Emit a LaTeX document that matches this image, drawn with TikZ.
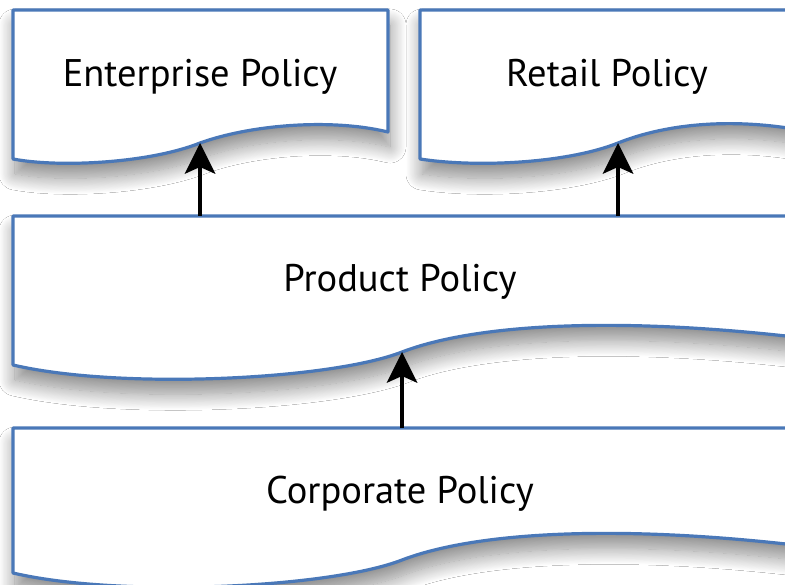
\documentclass[tikz,border=0pt]{standalone}
\usepackage{fontspec}
\setmainfont{PT Sans}
\usetikzlibrary{shadows.blur,arrows.meta}
\definecolor{docblue}{HTML}{4A78B8}
\begin{document}
\begin{tikzpicture}[x=1pt,y=-1pt,
  doc/.style={draw=docblue, line width=3.2pt, fill=white, line join=round,
    blur shadow={shadow xshift=2pt, shadow yshift=-15pt, shadow blur radius=16pt,
      shadow blur steps=20, shadow opacity=45}},
  lbl/.style={font=\fontsize{38.5}{44}\selectfont, inner sep=0pt, text=black},
  link/.style={draw=black, line width=3.2pt,
    -{Stealth[length=31pt,width=31pt,inset=7pt,fill=black,line width=0pt]}}]
\useasboundingbox (0,0) rectangle (785,585);
\fill[white] (0,0) rectangle (785,585);
% Enterprise Policy
\path[doc] (13,10) -- (388,10) -- (388,132)
  .. controls (330,118) and (250,125) .. (200,143)
  .. controls (150,163) and (60,168) .. (13,159) -- cycle;
% Retail Policy
\path[doc] (420,10) -- (820,10) -- (820,134)
  .. controls (740,116) and (668,123) .. (618,143)
  .. controls (568,163) and (478,168) .. (420,159) -- cycle;
% Product Policy
\path[doc] (13,216) -- (820,216) -- (820,340)
  .. controls (620,315) and (475,324) .. (402,352)
  .. controls (330,380) and (120,390) .. (13,365) -- cycle;
% Corporate Policy
\path[doc] (13,428) -- (820,428) -- (820,548)
  .. controls (620,523) and (475,532) .. (402,560)
  .. controls (330,588) and (120,598) .. (13,573) -- cycle;
% labels
\node[lbl] (ent) at (200,77) {Enterprise Policy};
\node[lbl] (ret) at (607,77) {Retail Policy};
\node[lbl] (prod) at (400,282) {Product Policy};
\node[lbl] (corp) at (400,494) {Corporate Policy};
% connector anchors
\coordinate (entin) at (200,143);
\coordinate (retin) at (618,143);
\coordinate (prodin) at (402,352);
\coordinate (prodout1) at (200,216);
\coordinate (prodout2) at (618,216);
\coordinate (corpout) at (402,428);
\draw[link] (prodout1) -- (entin);
\draw[link] (prodout2) -- (retin);
\draw[link] (corpout) -- (prodin);
\end{tikzpicture}
\end{document}
